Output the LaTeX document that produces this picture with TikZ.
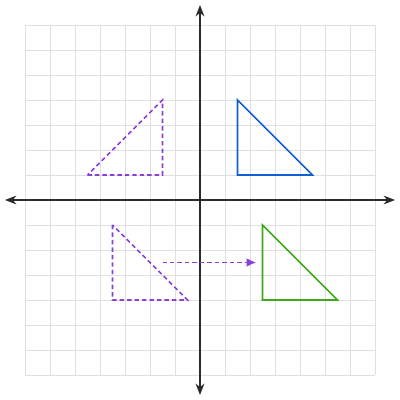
\documentclass[tikz,border=0pt]{standalone}
\usetikzlibrary{arrows.meta}
\definecolor{gridgray}{HTML}{E0E0E0}
\definecolor{axisgray}{HTML}{2B2B2B}
\definecolor{shapepurple}{HTML}{8B3FD6}
\definecolor{shapeblue}{HTML}{1160D0}
\definecolor{shapegreen}{HTML}{3DA819}
\tikzset{
	axisline/.style={axisgray,line width=1.6pt,-{Stealth[length=13pt,width=10pt]}},
	movedline/.style={shapepurple,line width=1.8pt,dash pattern=on 5pt off 3.5pt},
	imageline/.style={line width=1.8pt}
}
\begin{document}
\begin{tikzpicture}
	\useasboundingbox (-8,-8) rectangle (8,8);
	\draw[gridgray,line width=1.1pt] (-7,-7) grid (7,7);
	
	\draw[axisline] (0,0) -- (7.8,0);
	\draw[axisline] (0,0) -- (-7.8,0);
	\draw[axisline] (0,0) -- (0,7.8);
	\draw[axisline] (0,0) -- (0,-7.8);
	
	\draw[movedline] (-4.5,1) -- (-1.5,1) -- (-1.5,4) -- cycle;
	\draw[imageline,shapeblue] (1.5,4) -- (1.5,1) -- (4.5,1) -- cycle;
	
	\draw[movedline] (-3.5,-1) -- (-3.5,-4) -- (-0.5,-4) -- cycle;
	\draw[imageline,shapegreen] (2.5,-1) -- (2.5,-4) -- (5.5,-4) -- cycle;
	
	\coordinate (from) at (-1.5,-2.5);
	\coordinate (to) at (2.25,-2.5);
	\draw[movedline,-{Latex[length=11pt,width=10pt]}] (from) -- (to);
\end{tikzpicture}
\end{document}
